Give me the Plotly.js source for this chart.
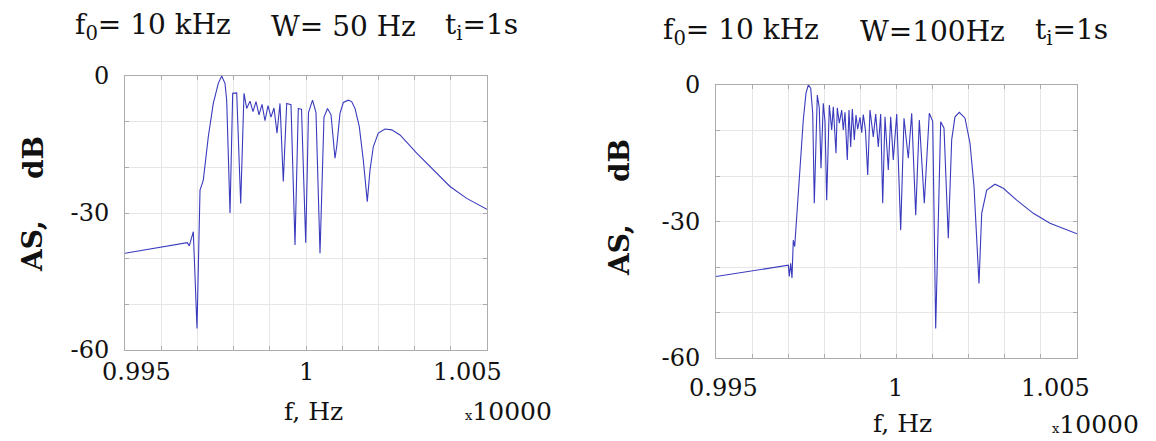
<!DOCTYPE html>
<html>
<head>
<meta charset="utf-8">
<script src="https://cdn.plot.ly/plotly-3.0.1.min.js"></script>
<style>html,body{margin:0;padding:0;background:#fff;}#chart{width:1156px;height:441px;}</style>
</head>
<body>
<div id="chart"></div>
<script>
// ---------- DATA (frequency in units of 10000 Hz, level in dB) ----------
// Left panel: f0 = 10 kHz, W = 50 Hz, ti = 1 s
const leftFreq = [
  0.995000, 0.996721, 0.996776, 0.996887, 0.996989, 0.997072, 0.997163, 0.997301,
  0.997439, 0.997577, 0.997671, 0.997762, 0.997809, 0.997901, 0.997975, 0.998086,
  0.998196, 0.998287, 0.998362, 0.998453, 0.998536, 0.998619, 0.998702, 0.998785,
  0.998867, 0.998950, 0.999033, 0.999116, 0.999199, 0.999282, 0.999373, 0.999467,
  0.999586, 0.999696, 0.999787, 0.999876, 0.999992, 1.000069, 1.000180, 1.000276,
  1.000387, 1.000497, 1.000594, 1.000691, 1.000801, 1.000848, 1.000939, 1.001030,
  1.001168, 1.001262, 1.001354, 1.001472, 1.001583, 1.001693, 1.001768, 1.001859,
  1.001997, 1.002182, 1.002367, 1.002597, 1.003058, 1.003517, 1.003978, 1.004439,
  1.005000
];
const leftLevel = [
  -38.8, -36.5, -37.2, -34.1, -55.3, -25.0, -22.8, -13.3,
  -6.0, -1.6, 0.0, -1.6, -5.3, -30.0, -3.8, -3.7,
  -27.9, -3.8, -7.1, -5.5, -7.8, -5.6, -8.5, -6.2,
  -9.8, -6.5, -9.0, -7.0, -12.5, -6.0, -23.1, -6.0,
  -6.3, -37.0, -7.1, -7.3, -36.5, -8.0, -5.3, -8.0,
  -38.8, -9.0, -7.1, -8.5, -18.0, -15.5, -8.2, -5.8,
  -5.3, -5.6, -7.1, -11.1, -18.4, -27.5, -20.6, -15.5,
  -12.5, -11.6, -11.8, -12.9, -16.9, -20.6, -24.2, -26.8,
  -29.2
];
// Right panel: f0 = 10 kHz, W = 100 Hz, ti = 1 s
const rightFreq = [
  0.995000, 0.997003, 0.997030, 0.997069, 0.997105, 0.997141, 0.997180, 0.997252,
  0.997327, 0.997418, 0.997493, 0.997557, 0.997623, 0.997679, 0.997723, 0.997806,
  0.997861, 0.997909, 0.997972, 0.998019, 0.998066, 0.998139, 0.998205, 0.998249,
  0.998324, 0.998360, 0.998416, 0.998482, 0.998526, 0.998573, 0.998637, 0.998684,
  0.998731, 0.998776, 0.998831, 0.998878, 0.998925, 0.998989, 0.999036, 0.999080,
  0.999141, 0.999202, 0.999266, 0.999357, 0.999424, 0.999496, 0.999562, 0.999618,
  0.999681, 0.999773, 0.999839, 0.999911, 1.000006, 1.000116, 1.000208, 1.000327,
  1.000421, 1.000532, 1.000632, 1.000770, 1.000909, 1.001003, 1.001086, 1.001224,
  1.001316, 1.001435, 1.001529, 1.001620, 1.001740, 1.001898, 1.002036, 1.002147,
  1.002285, 1.002360, 1.002499, 1.002729, 1.002958, 1.003330, 1.003790, 1.004252,
  1.005000
];
const rightLevel = [
  -42.1, -39.6, -42.1, -39.2, -42.4, -34.1, -35.5, -27.5,
  -18.7, -7.7, -1.8, 0.0, -0.7, -6.2, -26.0, -2.2,
  -5.0, -18.3, -4.0, -8.0, -25.3, -4.4, -9.9, -4.8,
  -15.0, -5.0, -8.4, -5.5, -9.9, -6.0, -16.5, -5.5,
  -13.6, -5.3, -12.1, -6.6, -9.7, -7.1, -10.5, -6.5,
  -10.0, -19.8, -5.5, -11.4, -6.4, -13.6, -6.4, -26.0,
  -7.0, -18.7, -7.0, -16.5, -6.4, -31.9, -7.3, -16.1,
  -6.2, -28.6, -7.7, -26.0, -6.2, -8.0, -53.5, -8.1,
  -9.5, -33.7, -12.0, -7.0, -6.0, -7.3, -12.8, -22.3,
  -43.6, -28.2, -23.1, -21.8, -22.7, -25.3, -28.2, -30.4,
  -32.7
];
// Tick labels
const xTickVals = [0.995, 1, 1.005];
const xTickText = ['0.995', '1', '1.005'];
const yTickVals = [-60, -50, -40, -30, -20, -10, 0];
const yTickText = ['-60', '', '', '-30', '', '', '0'];
const titles = [
  ['f<sub>0</sub>= 10 kHz', 'W= 50 Hz', 't<sub>i</sub>=1s'],
  ['f<sub>0</sub>= 10 kHz', 'W=100Hz', 't<sub>i</sub>=1s']
];

// ---------- STYLE / LAYOUT ----------
const W = 1156, H = 441;
const FONT = 'DejaVu Serif, Liberation Serif, serif';
const lineColor = 'rgb(58,58,190)';
const px = v => v / W, py = v => 1 - v / H;

const panels = [
  {left: 125, right: 487, top: 76, bottom: 350,
   tickShift: [11, 0, -20], tickY: 372, fhz: [313, 411], mult: [508, 411],
   ylab: [33, 246, 158], titleX: [153, 343, 481], titleY: 26},
  {left: 716, right: 1077, top: 85, bottom: 358,
   tickShift: [7, -1, -22], tickY: 388, fhz: [902, 423], mult: [1095, 424],
   ylab: [619, 250, 161], titleX: [741, 932, 1071], titleY: 31}
];

const traces = [
  {x: leftFreq, y: leftLevel, xaxis: 'x', yaxis: 'y', type: 'scatter', mode: 'lines',
   line: {color: lineColor, width: 1.1}, hoverinfo: 'skip'},
  {x: rightFreq, y: rightLevel, xaxis: 'x2', yaxis: 'y2', type: 'scatter', mode: 'lines',
   line: {color: lineColor, width: 1.1}, hoverinfo: 'skip'}
];

const layout = {
  width: W, height: H, margin: {l: 0, r: 0, t: 0, b: 0},
  paper_bgcolor: '#fff', plot_bgcolor: '#fff', showlegend: false,
  font: {family: FONT, color: '#111', size: 24},
  annotations: []
};

panels.forEach((p, i) => {
  const n = i === 0 ? '' : '2';
  layout['xaxis' + n] = {
    domain: [px(p.left), px(p.right)], anchor: 'y' + n,
    range: [0.995, 1.005], tickmode: 'linear', tick0: 0.995, dtick: 0.001,
    showticklabels: false, showgrid: true, gridcolor: '#e6e6e6', gridwidth: 1,
    zeroline: false, showline: true, linecolor: '#acacac', linewidth: 1,
    mirror: 'ticks', ticks: 'inside', ticklen: 4, tickcolor: '#acacac'
  };
  layout['yaxis' + n] = {
    domain: [py(p.bottom), py(p.top)], anchor: 'x' + n,
    range: [-60, 0], tickmode: 'array', tickvals: yTickVals, ticktext: yTickText,
    showgrid: true, gridcolor: '#e6e6e6', gridwidth: 1,
    zeroline: false, showline: true, linecolor: '#acacac', linewidth: 1,
    mirror: 'ticks', ticks: 'inside', ticklen: 4, tickcolor: '#acacac',
    tickfont: {family: FONT, size: 24, color: '#111'}, ticklabelstandoff: 10
  };
  xTickVals.forEach((v, k) => {
    layout.annotations.push({
      xref: 'x' + n, yref: 'paper', x: v, y: py(p.tickY), xshift: p.tickShift[k],
      text: xTickText[k], showarrow: false, xanchor: 'center', yanchor: 'middle',
      font: {family: FONT, size: 24, color: '#111'}
    });
  });
  layout.annotations.push({
    xref: 'paper', yref: 'paper', x: px(p.fhz[0]), y: py(p.fhz[1]),
    text: 'f, Hz', showarrow: false, xanchor: 'center', yanchor: 'middle',
    font: {family: FONT, size: 25, color: '#111'}
  });
  layout.annotations.push({
    xref: 'paper', yref: 'paper', x: px(p.mult[0]), y: py(p.mult[1]),
    text: '<span style="font-size:13px">x</span>10000', showarrow: false,
    xanchor: 'center', yanchor: 'middle',
    font: {family: FONT, size: 25, color: '#111'}
  });
  layout.annotations.push({
    xref: 'paper', yref: 'paper', x: px(p.ylab[0]), y: py(p.ylab[1]),
    text: 'AS,', textangle: -90, showarrow: false, xanchor: 'center', yanchor: 'middle',
    font: {family: FONT, size: 28, color: '#111', weight: 'bold'}
  });
  layout.annotations.push({
    xref: 'paper', yref: 'paper', x: px(p.ylab[0]), y: py(p.ylab[2]),
    text: 'dB', textangle: -90, showarrow: false, xanchor: 'center', yanchor: 'middle',
    font: {family: FONT, size: 28, color: '#111', weight: 'bold'}
  });
  titles[i].forEach((t, k) => {
    layout.annotations.push({
      xref: 'paper', yref: 'paper', x: px(p.titleX[k]), y: py(p.titleY),
      text: t, showarrow: false, xanchor: 'center', yanchor: 'middle',
      font: {family: FONT, size: 28, color: '#111'}
    });
  });
});

Plotly.newPlot('chart', traces, layout, {staticPlot: true, displayModeBar: false});
</script>
</body>
</html>
